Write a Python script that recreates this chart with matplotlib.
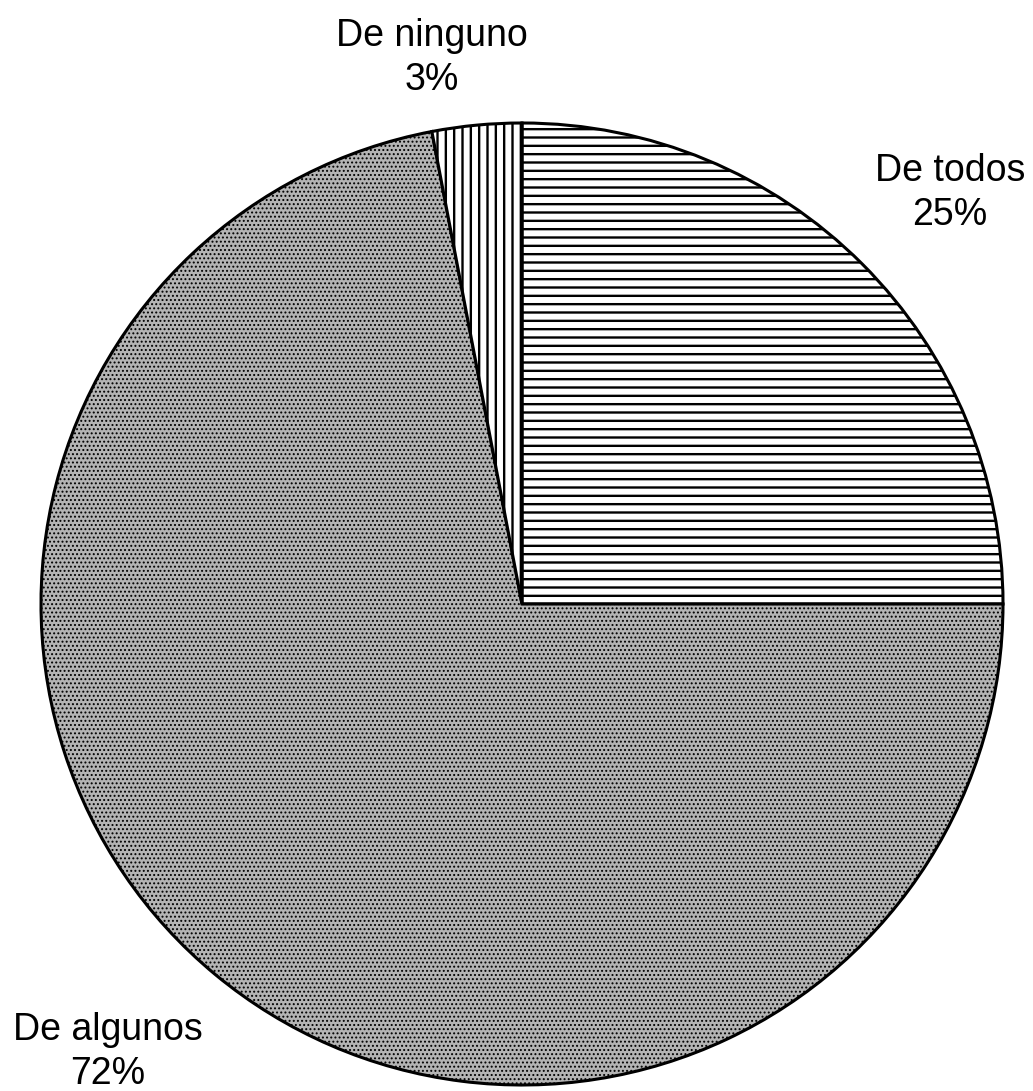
import matplotlib
matplotlib.use("Agg")
import matplotlib.pyplot as plt

# data
labels = ["De todos", "De algunos", "De ninguno"]
shares = [25, 72, 3]
hatches = ["--", "....", "||"]
faces = ["white", "#b4b4b4", "white"]
hatch_lw = [1.7, 0.9, 1.7]

plt.rcParams["font.family"] = ["Liberation Sans", "DejaVu Sans"]
plt.rcParams["hatch.linewidth"] = 1.7

W, H = 1033, 1091
fig = plt.figure(figsize=(W / 100, H / 100), dpi=100)
ax = fig.add_axes([0, 0, 1, 1])

cx, cy, r = 522, H - 604, 481
wedges, _ = ax.pie(shares, startangle=90, counterclock=False,
                   center=(cx, cy), radius=r, frame=True,
                   wedgeprops=dict(edgecolor="black", linewidth=2.2))
for w, h, fc, lw in zip(wedges, hatches, faces, hatch_lw):
    w.set_facecolor(fc)
    w.set_hatch(h)
    if hasattr(w, "set_hatch_linewidth"):
        w.set_hatch_linewidth(lw)
ax.set_xlim(0, W)
ax.set_ylim(0, H)
ax.set_aspect("equal")
ax.axis("off")

# label spots (pixels from top-left)
spots = {"De todos": (950, 193), "De algunos": (108, 1052), "De ninguno": (432, 58)}
for lab, v in zip(labels, shares):
    x, y = spots[lab]
    ax.text(x, H - y, f"{lab}\n{v}%", ha="center", va="center",
            fontsize=27, linespacing=1.3)

fig.savefig("out.png", dpi=100)
